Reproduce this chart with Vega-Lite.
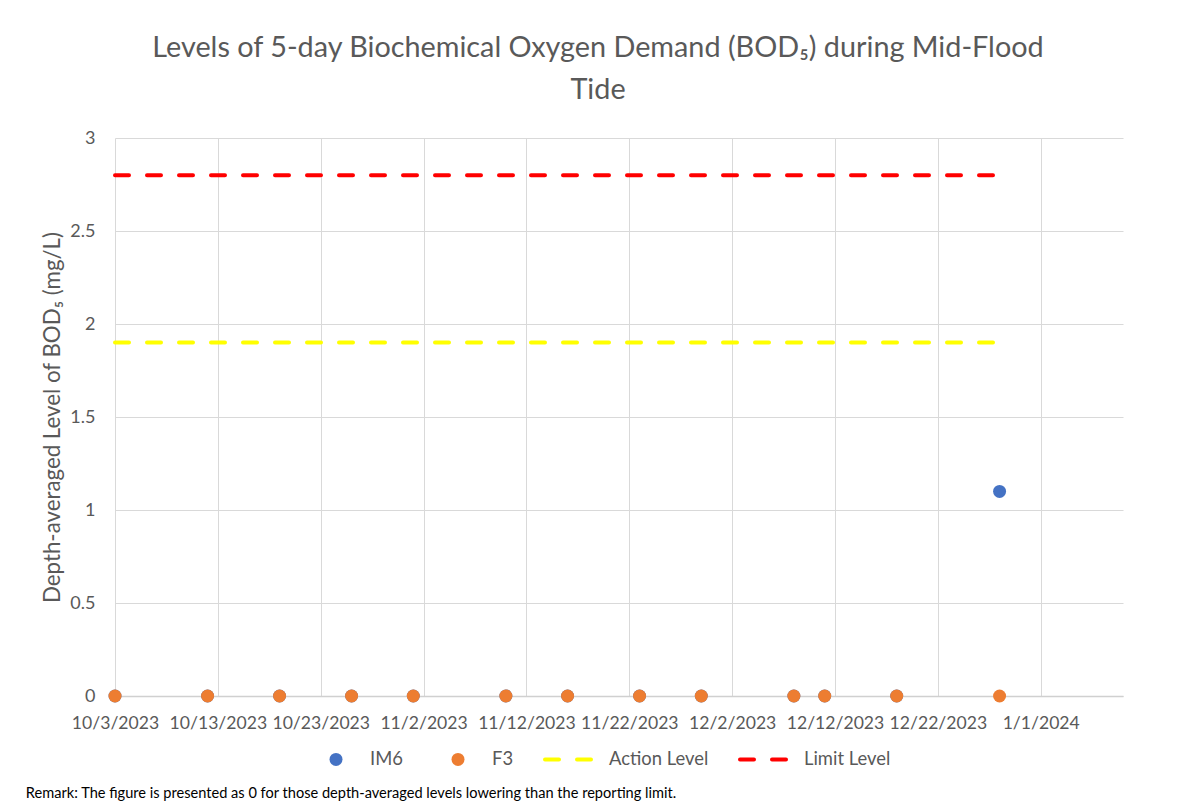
{
  "$schema": "https://vega.github.io/schema/vega-lite/v6.json",
  "background": "white",
  "padding": {"left": 25, "top": 34, "right": 5, "bottom": 5},
  "title": {
    "text": "Remark: The figure is presented as 0 for those depth-averaged levels lowering than the reporting limit.",
    "orient": "bottom",
    "anchor": "start",
    "frame": "bounds",
    "dx": -16,
    "offset": 17,
    "font": "Lato",
    "fontSize": 14.6,
    "fontWeight": "normal",
    "color": "#000000"
  },
  "datasets": {
    "bod": [
      {"date": "2023-10-03", "series": "Action Level", "value": 1.9},
      {"date": "2023-12-28", "series": "Action Level", "value": 1.9},
      {"date": "2023-10-03", "series": "Limit Level", "value": 2.8},
      {"date": "2023-12-28", "series": "Limit Level", "value": 2.8},
      {"date": "2023-10-03", "series": "IM6", "value": 0},
      {"date": "2023-10-12", "series": "IM6", "value": 0},
      {"date": "2023-10-19", "series": "IM6", "value": 0},
      {"date": "2023-10-26", "series": "IM6", "value": 0},
      {"date": "2023-11-01", "series": "IM6", "value": 0},
      {"date": "2023-11-10", "series": "IM6", "value": 0},
      {"date": "2023-11-16", "series": "IM6", "value": 0},
      {"date": "2023-11-23", "series": "IM6", "value": 0},
      {"date": "2023-11-29", "series": "IM6", "value": 0},
      {"date": "2023-12-08", "series": "IM6", "value": 0},
      {"date": "2023-12-11", "series": "IM6", "value": 0},
      {"date": "2023-12-18", "series": "IM6", "value": 0},
      {"date": "2023-12-28", "series": "IM6", "value": 1.1},
      {"date": "2023-10-03", "series": "F3", "value": 0},
      {"date": "2023-10-12", "series": "F3", "value": 0},
      {"date": "2023-10-19", "series": "F3", "value": 0},
      {"date": "2023-10-26", "series": "F3", "value": 0},
      {"date": "2023-11-01", "series": "F3", "value": 0},
      {"date": "2023-11-10", "series": "F3", "value": 0},
      {"date": "2023-11-16", "series": "F3", "value": 0},
      {"date": "2023-11-23", "series": "F3", "value": 0},
      {"date": "2023-11-29", "series": "F3", "value": 0},
      {"date": "2023-12-08", "series": "F3", "value": 0},
      {"date": "2023-12-11", "series": "F3", "value": 0},
      {"date": "2023-12-18", "series": "F3", "value": 0},
      {"date": "2023-12-28", "series": "F3", "value": 0}
    ]
  },
  "vconcat": [
    {
      "title": {
        "text": ["Levels of 5-day Biochemical Oxygen Demand (BOD₅) during Mid-Flood", "Tide"],
        "font": "Lato",
        "fontSize": 28.8,
        "fontWeight": "normal",
        "color": "#595959",
        "lineHeight": 42,
        "anchor": "middle",
        "frame": "group",
        "dx": -21,
        "offset": 24
      },
      "width": 1008,
      "height": 558,
      "data": {"name": "bod"},
      "encoding": {
        "x": {
          "field": "date",
          "type": "temporal",
          "scale": {
            "type": "utc",
            "domain": [
              {"year": 2023, "month": 10, "date": 3, "utc": true},
              {"year": 2024, "month": 1, "date": 9, "utc": true}
            ],
            "nice": false
          },
          "axis": {
            "title": null,
            "values": [
              {"year": 2023, "month": 10, "date": 3, "utc": true},
              {"year": 2023, "month": 10, "date": 13, "utc": true},
              {"year": 2023, "month": 10, "date": 23, "utc": true},
              {"year": 2023, "month": 11, "date": 2, "utc": true},
              {"year": 2023, "month": 11, "date": 12, "utc": true},
              {"year": 2023, "month": 11, "date": 22, "utc": true},
              {"year": 2023, "month": 12, "date": 2, "utc": true},
              {"year": 2023, "month": 12, "date": 12, "utc": true},
              {"year": 2023, "month": 12, "date": 22, "utc": true},
              {"year": 2024, "month": 1, "date": 1, "utc": true}
            ],
            "format": "%-m/%-d/%Y",
            "grid": true,
            "gridColor": "#d9d9d9",
            "domainColor": "#d0d0d0",
            "domainWidth": 1.5,
            "ticks": false,
            "tickSize": 0,
            "labelPadding": 18,
            "labelFont": "Lato",
            "labelFontSize": 17.6,
            "labelColor": "#595959",
            "labelFlush": false,
            "labelOverlap": false,
            "labelBound": false
          }
        },
        "y": {
          "field": "value",
          "type": "quantitative",
          "scale": {"domain": [0, 3], "nice": false},
          "axis": {
            "title": "Depth-averaged Level of  BOD₅ (mg/L)",
            "values": [0, 0.5, 1, 1.5, 2, 2.5, 3],
            "format": "~g",
            "grid": true,
            "gridColor": "#d9d9d9",
            "domain": false,
            "ticks": false,
            "tickSize": 0,
            "labelPadding": 20,
            "labelFont": "Lato",
            "labelFontSize": 18,
            "labelColor": "#595959",
            "titleFont": "Lato",
            "titleFontSize": 22.3,
            "titleFontWeight": "normal",
            "titleColor": "#595959",
            "titlePadding": 5
          }
        },
        "color": {
          "field": "series",
          "type": "nominal",
          "scale": {
            "domain": ["IM6", "F3", "Action Level", "Limit Level"],
            "range": ["#4472C4", "#ED7D31", "#FFFF00", "#FF0000"]
          },
          "legend": {
            "title": null,
            "orient": "none",
            "legendX": 189,
            "legendY": 612,
            "direction": "horizontal",
            "labelFont": "Lato",
            "labelFontSize": 18.4,
            "labelColor": "#595959",
            "columnPadding": 23,
            "symbolSize": 2116,
            "symbolStrokeWidth": 4,
            "encode": {
              "symbols": {
                "update": {
                  "x": {"signal": "datum.value === 'IM6' || datum.value === 'F3' ? 32 : 25"},
                  "shape": {"signal": "datum.value === 'IM6' || datum.value === 'F3' ? 'circle' : 'stroke'"},
                  "size": {"signal": "datum.value === 'IM6' || datum.value === 'F3' ? 169 : 2116"},
                  "fill": {"signal": "datum.value === 'IM6' ? '#4472C4' : datum.value === 'F3' ? '#ED7D31' : 'transparent'"},
                  "stroke": {"signal": "datum.value === 'Action Level' ? '#FFFF00' : datum.value === 'Limit Level' ? '#FF0000' : 'transparent'"},
                  "strokeWidth": {"signal": "datum.value === 'IM6' || datum.value === 'F3' ? 0 : 4"},
                  "strokeDash": {"value": [14, 18]},
                  "strokeCap": {"value": "round"},
                  "opacity": {"value": 1}
                }
              },
              "labels": {
                "update": {
                  "x": {"value": 66}
                }
              }
            }
          }
        }
      },
      "layer": [
        {
          "transform": [{"filter": "datum.series === 'Action Level' || datum.series === 'Limit Level'"}],
          "mark": {"type": "line", "strokeWidth": 4, "strokeDash": [14, 18], "strokeCap": "round"}
        },
        {
          "transform": [{"filter": "datum.series === 'IM6' || datum.series === 'F3'"}],
          "mark": {"type": "circle", "size": 169, "opacity": 1}
        }
      ]
    }
  ],
  "config": {
    "view": {"stroke": null},
    "font": "Lato"
  }
}
